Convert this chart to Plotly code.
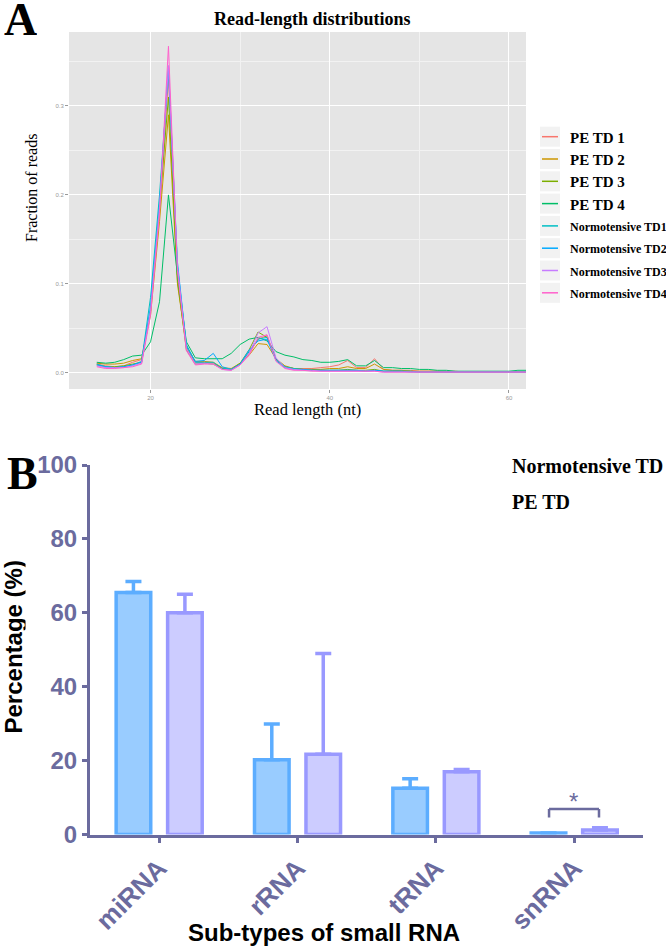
import plotly.graph_objects as go

W, H = 666, 948

# ---------------- Panel A data ----------------
read_lengths = list(range(14, 63))

pe_td1 = [0.010, 0.008, 0.007, 0.008, 0.012, 0.015, 0.070, 0.180, 0.330, 0.110, 0.028, 0.012, 0.012, 0.011, 0.005, 0.004,
          0.010, 0.022, 0.038, 0.042, 0.015, 0.007, 0.005, 0.005, 0.005, 0.006, 0.007, 0.009, 0.014, 0.006, 0.006, 0.016,
          0.004, 0.003, 0.003, 0.003, 0.002, 0.002, 0.002, 0.002, 0.002, 0.001, 0.001, 0.001, 0.001, 0.001, 0.001, 0.001, 0.001]
pe_td2 = [0.011, 0.010, 0.010, 0.011, 0.014, 0.016, 0.065, 0.170, 0.290, 0.100, 0.030, 0.013, 0.013, 0.012, 0.006, 0.005,
          0.011, 0.020, 0.033, 0.032, 0.016, 0.008, 0.005, 0.004, 0.004, 0.004, 0.005, 0.005, 0.007, 0.005, 0.005, 0.010,
          0.004, 0.003, 0.003, 0.002, 0.002, 0.002, 0.002, 0.001, 0.001, 0.001, 0.001, 0.001, 0.001, 0.001, 0.001, 0.001, 0.001]
pe_td3 = [0.009, 0.007, 0.007, 0.008, 0.010, 0.012, 0.070, 0.185, 0.310, 0.105, 0.026, 0.010, 0.011, 0.010, 0.005, 0.004,
          0.011, 0.026, 0.046, 0.040, 0.016, 0.007, 0.005, 0.004, 0.004, 0.003, 0.003, 0.003, 0.004, 0.003, 0.003, 0.004,
          0.002, 0.002, 0.002, 0.002, 0.001, 0.001, 0.001, 0.001, 0.001, 0.001, 0.001, 0.001, 0.001, 0.001, 0.001, 0.001, 0.001]
pe_td4 = [0.012, 0.011, 0.012, 0.015, 0.019, 0.020, 0.035, 0.080, 0.200, 0.110, 0.035, 0.017, 0.016, 0.016, 0.016, 0.022,
          0.032, 0.038, 0.040, 0.036, 0.024, 0.020, 0.018, 0.015, 0.014, 0.012, 0.012, 0.013, 0.015, 0.008, 0.008, 0.014,
          0.006, 0.006, 0.005, 0.005, 0.004, 0.004, 0.003, 0.003, 0.002, 0.002, 0.002, 0.002, 0.002, 0.002, 0.002, 0.003, 0.003]
nt_td1 = [0.010, 0.007, 0.006, 0.007, 0.009, 0.013, 0.085, 0.200, 0.340, 0.120, 0.032, 0.012, 0.012, 0.012, 0.005, 0.004,
          0.010, 0.024, 0.038, 0.040, 0.016, 0.007, 0.005, 0.004, 0.003, 0.003, 0.003, 0.003, 0.003, 0.003, 0.002, 0.003,
          0.002, 0.002, 0.002, 0.002, 0.001, 0.001, 0.001, 0.001, 0.001, 0.001, 0.001, 0.001, 0.001, 0.001, 0.001, 0.001, 0.001]
nt_td2 = [0.009, 0.007, 0.006, 0.007, 0.009, 0.012, 0.075, 0.190, 0.345, 0.125, 0.030, 0.013, 0.014, 0.022, 0.007, 0.004,
          0.010, 0.026, 0.036, 0.038, 0.014, 0.006, 0.004, 0.004, 0.003, 0.003, 0.003, 0.003, 0.003, 0.003, 0.002, 0.003,
          0.002, 0.002, 0.002, 0.001, 0.001, 0.001, 0.001, 0.001, 0.001, 0.001, 0.001, 0.001, 0.001, 0.001, 0.001, 0.001, 0.001]
nt_td3 = [0.008, 0.006, 0.006, 0.006, 0.008, 0.011, 0.070, 0.185, 0.345, 0.120, 0.027, 0.010, 0.011, 0.010, 0.004, 0.003,
          0.009, 0.022, 0.045, 0.052, 0.017, 0.006, 0.004, 0.003, 0.003, 0.002, 0.002, 0.002, 0.002, 0.002, 0.002, 0.002,
          0.001, 0.001, 0.001, 0.001, 0.001, 0.001, 0.001, 0.001, 0.001, 0.001, 0.001, 0.001, 0.001, 0.001, 0.001, 0.001, 0.001]
nt_td4 = [0.007, 0.005, 0.005, 0.006, 0.007, 0.010, 0.065, 0.180, 0.367, 0.115, 0.025, 0.009, 0.010, 0.010, 0.004, 0.003,
          0.009, 0.020, 0.040, 0.043, 0.013, 0.005, 0.003, 0.003, 0.002, 0.002, 0.002, 0.002, 0.002, 0.002, 0.002, 0.002,
          0.001, 0.001, 0.001, 0.001, 0.001, 0.001, 0.001, 0.001, 0.001, 0.001, 0.001, 0.001, 0.001, 0.001, 0.001, 0.001, 0.001]

series_names = ["PE TD 1", "PE TD 2", "PE TD 3", "PE TD 4",
                "Normotensive TD1", "Normotensive TD2", "Normotensive TD3", "Normotensive TD4"]
series_values = [pe_td1, pe_td2, pe_td3, pe_td4, nt_td1, nt_td2, nt_td3, nt_td4]
series_colors = ["#F8766D", "#CD9600", "#7CAE00", "#00BE67", "#00BFC4", "#00A9FF", "#C77CFF", "#FF61CC"]

yticks_a = [0.0, 0.1, 0.2, 0.3]
xticks_a = [20, 40, 60]

# ---------------- Panel B data ----------------
rna_types = ["miRNA", "rRNA", "tRNA", "snRNA"]
normo_pct = [65.5, 20.2, 12.5, 0.4]
normo_err = [3.0, 9.7, 2.6, 0.0]
pe_pct = [60.0, 21.7, 17.0, 1.2]
pe_err = [5.0, 27.3, 0.6, 0.6]
yticks_b = [0, 20, 40, 60, 80, 100]

SLATE = "#6B6B9E"
SERIF = "Liberation Serif"
SANS = "Liberation Sans"


def px_x(p):
    return p / W


def px_y(p):
    return 1 - p / H


fig = go.Figure()

for name, vals, col in zip(series_names, series_values, series_colors):
    fig.add_trace(go.Scatter(x=read_lengths, y=vals, mode="lines", name=name, showlegend=False,
                             line=dict(color=col, width=1), xaxis="x", yaxis="y"))

fig.add_trace(go.Bar(x=rna_types, y=normo_pct, name="Normotensive TD", showlegend=False,
                     width=0.25, offset=-0.311,
                     marker=dict(color="#99CCFF", line=dict(color="#5CADFF", width=3.5)),
                     error_y=dict(type="data", array=normo_err, arrayminus=[0] * 4, symmetric=False,
                                  color="#5CADFF", thickness=3.5, width=8),
                     xaxis="x2", yaxis="y2"))
fig.add_trace(go.Bar(x=rna_types, y=pe_pct, name="PE TD", showlegend=False,
                     width=0.25, offset=0.061,
                     marker=dict(color="#CCCCFF", line=dict(color="#9999FF", width=3.5)),
                     error_y=dict(type="data", array=pe_err, arrayminus=[0] * 4, symmetric=False,
                                  color="#9999FF", thickness=3.5, width=8),
                     xaxis="x2", yaxis="y2"))

fig.update_layout(
    width=W, height=H, margin=dict(l=0, r=0, t=0, b=0, autoexpand=False),
    paper_bgcolor="white", plot_bgcolor="white",
    barmode="overlay",
    showlegend=False,
    xaxis=dict(domain=[px_x(69), px_x(526)], range=[10.9, 61.9], tickvals=xticks_a,
               showgrid=True, gridcolor="white", gridwidth=1.2,
               minor=dict(showgrid=True, gridcolor="#F2F2F2", gridwidth=0.6, dtick=10, tick0=0),
               zeroline=False, showline=False, ticks="outside", ticklen=3, tickcolor="#999",
               tickfont=dict(family=SANS, size=6, color="#999"), anchor="y"),
    yaxis=dict(domain=[px_y(389), px_y(32)], range=[-0.018, 0.383], tickvals=yticks_a,
               tickformat=".1f",
               showgrid=True, gridcolor="white", gridwidth=1.2,
               minor=dict(showgrid=True, gridcolor="#F2F2F2", gridwidth=0.6, dtick=0.05, tick0=0),
               zeroline=False, showline=False, ticks="outside", ticklen=3, tickcolor="#999",
               tickfont=dict(family=SANS, size=6, color="#999"), anchor="x"),
    xaxis2=dict(domain=[px_x(90), px_x(643.4)], range=[-0.5, 3.5], type="category",
                showgrid=False, zeroline=False, showline=True, linecolor=SLATE, linewidth=3,
                ticks="outside", ticklen=5, tickwidth=3, tickcolor=SLATE, tickangle=-45,
                tickfont=dict(family=SANS, size=26, color=SLATE, weight="bold"), anchor="y2"),
    yaxis2=dict(domain=[px_y(834.5), px_y(465)], range=[0, 100], tickvals=yticks_b,
                showgrid=False, zeroline=False, showline=True, linecolor=SLATE, linewidth=3,
                ticks="outside", ticklen=5, tickwidth=3, tickcolor=SLATE,
                tickfont=dict(family=SANS, size=24, color=SLATE, weight="bold"), anchor="x2"),
)

# grey panel background for A
shapes = [dict(type="rect", xref="x domain", yref="y domain", x0=0, x1=1, y0=0, y1=1,
               fillcolor="#E5E5E5", line=dict(width=0), layer="below")]

ann = []
# manual ggplot-style legend for panel A
for i, (name, col) in enumerate(zip(series_names, series_colors)):
    cy = 136.7 + i * 22.3
    shapes.append(dict(type="rect", xref="paper", yref="paper",
                       x0=px_x(540), x1=px_x(560), y0=px_y(cy + 10), y1=px_y(cy - 10),
                       fillcolor="#F2F2F2", line=dict(width=0)))
    shapes.append(dict(type="line", xref="paper", yref="paper",
                       x0=px_x(542), x1=px_x(558), y0=px_y(cy), y1=px_y(cy),
                       line=dict(color=col, width=1.5)))
    ann.append(dict(text=name, x=px_x(568), y=px_y(cy + 1), xanchor="left",
                    font=dict(family=SERIF, size=15 if name.startswith("PE") else 12,
                              color="black", weight="bold")))

# significance bracket for snRNA
shapes += [
    dict(type="line", xref="x2", yref="y2", x0=2.818, x1=2.818, y0=4.6, y1=6.9, line=dict(color=SLATE, width=2.5)),
    dict(type="line", xref="x2", yref="y2", x0=2.818, x1=3.179, y0=6.9, y1=6.9, line=dict(color=SLATE, width=2.5)),
    dict(type="line", xref="x2", yref="y2", x0=3.179, x1=3.179, y0=4.6, y1=6.9, line=dict(color=SLATE, width=2.5)),
]
fig.update_layout(shapes=shapes)

ann += [
    dict(text="A", x=px_x(20), y=px_y(19), height=36, borderpad=0, valign="middle",
         font=dict(family=SERIF, size=46, color="black", weight="bold")),
    dict(text="B", x=px_x(22), y=px_y(473), font=dict(family=SERIF, size=46, color="black", weight="bold")),
    dict(text="Read-length distributions", x=px_x(312), y=px_y(19),
         font=dict(family=SERIF, size=18, color="black", weight="bold")),
    dict(text="Fraction of reads", x=px_x(31), y=px_y(188), textangle=-90,
         font=dict(family=SERIF, size=16, color="black")),
    dict(text="Read length (nt)", x=px_x(307.5), y=px_y(409.5),
         font=dict(family=SERIF, size=16.5, color="black")),
    dict(text="Normotensive TD", x=px_x(510), y=px_y(466), xanchor="left",
         font=dict(family=SERIF, size=20, color="black", weight="bold")),
    dict(text="PE TD", x=px_x(510), y=px_y(502), xanchor="left",
         font=dict(family=SERIF, size=20, color="black", weight="bold")),
    dict(text="Percentage (%)", x=px_x(12.5), y=px_y(647), textangle=-90, height=25, borderpad=0,
         valign="middle", font=dict(family=SANS, size=24, color="black", weight="bold")),
    dict(text="Sub-types of small RNA", x=px_x(324), y=px_y(932),
         font=dict(family=SANS, size=24, color="black", weight="bold")),
    dict(text="*", x=2.998, y=8.8, xref="x2", yref="y2",
         font=dict(family=SANS, size=24, color=SLATE)),
]
for a in ann:
    a.setdefault("xref", "paper")
    a.setdefault("yref", "paper")
    a.setdefault("xanchor", "center")
    a.setdefault("yanchor", "middle")
    a["showarrow"] = False
fig.update_layout(annotations=ann)

# remove the page's default 8px body margin so the figure fills the window exactly
fig.write_html("out.html", config={"displayModeBar": False},
               post_script="document.body.style.margin='0';")
